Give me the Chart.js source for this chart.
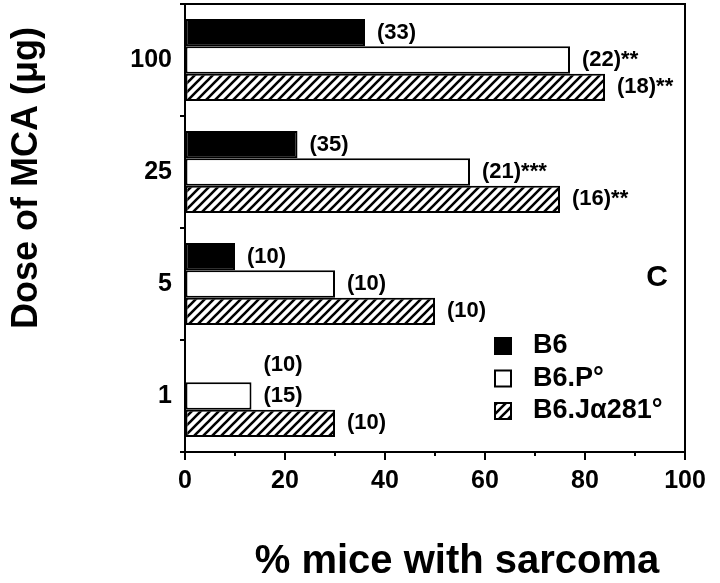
<!DOCTYPE html>
<html lang="en"><head><meta charset="UTF-8">
<title>Dose of MCA vs sarcoma</title>
<script src="https://cdn.jsdelivr.net/npm/chart.js@4.4.1/dist/chart.umd.min.js"></script>
<style>
html,body{margin:0;padding:0;background:#fff;}
#wrap{width:720px;height:583px;}
</style></head>
<body><div id="wrap"><canvas id="c" width="720" height="583"></canvas></div>
<script>
// data
const doses = ['100', '25', '5', '1'];
const seriesNames = ['B6', 'B6.P\u00b0', 'B6.J\u03b1281\u00b0'];
const b6Pct  = [36, 22.5, 10, 0];
const b6pPct = [77, 57, 30, 13.3];
const b6jPct = [84, 75, 50, 30];
// group sizes + significance marks printed next to the bars
const b6N  = ['(33)', '(35)', '(10)', '(10)'];
const b6pN = ['(22)**', '(21)***', '(10)', '(15)'];
const b6jN = ['(18)**', '(16)**', '(10)', '(10)'];
const barLabels = [b6N, b6pN, b6jN];

const FONT = "'Liberation Sans', Arial, Helvetica, sans-serif";

// "/" hatch used for B6.Ja281
function hatch() {
  const s = 9, cv = document.createElement('canvas');
  cv.width = s; cv.height = s;
  const g = cv.getContext('2d');
  g.fillStyle = '#fff'; g.fillRect(0, 0, s, s);
  g.strokeStyle = '#000'; g.lineWidth = 2.6;
  g.beginPath();
  g.moveTo(-2, s + 2); g.lineTo(s + 2, -2);
  g.moveTo(-2, 2); g.lineTo(2, -2);
  g.moveTo(s - 2, s + 2); g.lineTo(s + 2, s - 2);
  g.stroke();
  return g.createPattern(cv, 'repeat');
}
const hatchFill = hatch();

const decor = {
  id: 'decor',
  afterDraw(chart) {
    const ctx = chart.ctx, a = chart.chartArea, x = chart.scales.x;
    ctx.save();
    ctx.strokeStyle = '#000';
    ctx.lineWidth = 2;
    ctx.strokeRect(a.left, a.top, a.right - a.left, a.bottom - a.top);

    // x ticks: long at labelled values, short in between
    x.ticks.forEach(t => {
      const px = x.getPixelForValue(t.value);
      const len = t.value % 20 === 0 ? 8 : 4;
      ctx.beginPath(); ctx.moveTo(px, a.bottom); ctx.lineTo(px, a.bottom + len); ctx.stroke();
    });

    // n labels after each bar
    ctx.fillStyle = '#000';
    ctx.font = 'bold 22px ' + FONT;
    ctx.textAlign = 'left';
    ctx.textBaseline = 'middle';
    chart.data.datasets.forEach((ds, i) => {
      chart.getDatasetMeta(i).data.forEach((bar, j) => {
        let bx = bar.x, by = bar.y;
        if (ds.data[j] === 0 && chart.data.datasets[i + 1]) {
          bx = chart.getDatasetMeta(i + 1).data[j].x;
          by -= 4;
        }
        ctx.fillText(barLabels[i][j], bx + 12, by);
      });
    });

    // panel letter
    ctx.font = 'bold 30px ' + FONT;
    ctx.textAlign = 'center';
    ctx.fillText('C', 657, 278);

    // legend
    ctx.font = 'bold 27px ' + FONT;
    ctx.textAlign = 'left';
    chart.data.datasets.forEach((ds, i) => {
      const cy = 346 + i * 32.5;
      ctx.fillStyle = ds.backgroundColor;
      ctx.fillRect(495, cy - 8, 16, 16);
      ctx.lineWidth = 2;
      ctx.strokeRect(495, cy - 8, 16, 16);
      ctx.fillStyle = '#000';
      ctx.fillText(ds.label, 533, cy);
    });

    // axis titles
    ctx.font = 'bold 40px ' + FONT;
    ctx.textAlign = 'center';
    ctx.fillText('% mice with sarcoma', 457, 562);
    ctx.translate(27, 178);
    ctx.rotate(-Math.PI / 2);
    ctx.font = 'bold 36px ' + FONT;
    ctx.fillText('Dose of MCA (\u03bcg)', 0, 0);
    ctx.restore();
  }
};

new Chart(document.getElementById('c'), {
  type: 'bar',
  data: {
    labels: doses,
    datasets: [
      { label: seriesNames[0], data: b6Pct,  backgroundColor: '#000', borderColor: '#000', borderWidth: 2, borderSkipped: false },
      { label: seriesNames[1], data: b6pPct, backgroundColor: '#fff', borderColor: '#000', borderWidth: 2, borderSkipped: false },
      { label: seriesNames[2], data: b6jPct, backgroundColor: hatchFill, borderColor: '#000', borderWidth: 2, borderSkipped: false }
    ]
  },
  options: {
    indexAxis: 'y',
    responsive: false,
    animation: false,
    layout: { padding: { top: 4, right: 35, left: 0, bottom: 0 } },
    datasets: { bar: { categoryPercentage: 0.73, barPercentage: 1.0 } },
    plugins: { legend: { display: false }, tooltip: { enabled: false } },
    scales: {
      x: {
        min: 0, max: 100,
        border: { display: false },
        grid: { drawOnChartArea: false, tickLength: 8, tickColor: 'rgba(0,0,0,0)' },
        ticks: {
          stepSize: 10, autoSkip: false, padding: 6, color: '#000',
          font: { family: FONT, size: 25, weight: 'bold' },
          callback: v => (v % 20 === 0 ? v : '')
        },
        afterFit: s => { s.height = 131; }
      },
      y: {
        border: { display: false },
        grid: { offset: true, drawOnChartArea: false, tickLength: 5, color: '#000', lineWidth: 2 },
        ticks: { padding: 8, color: '#000', font: { family: FONT, size: 25, weight: 'bold' } },
        afterFit: s => { s.width = 185; s.paddingTop = 0; s.paddingBottom = 0; }
      }
    }
  },
  plugins: [decor]
});
</script>
</body></html>
